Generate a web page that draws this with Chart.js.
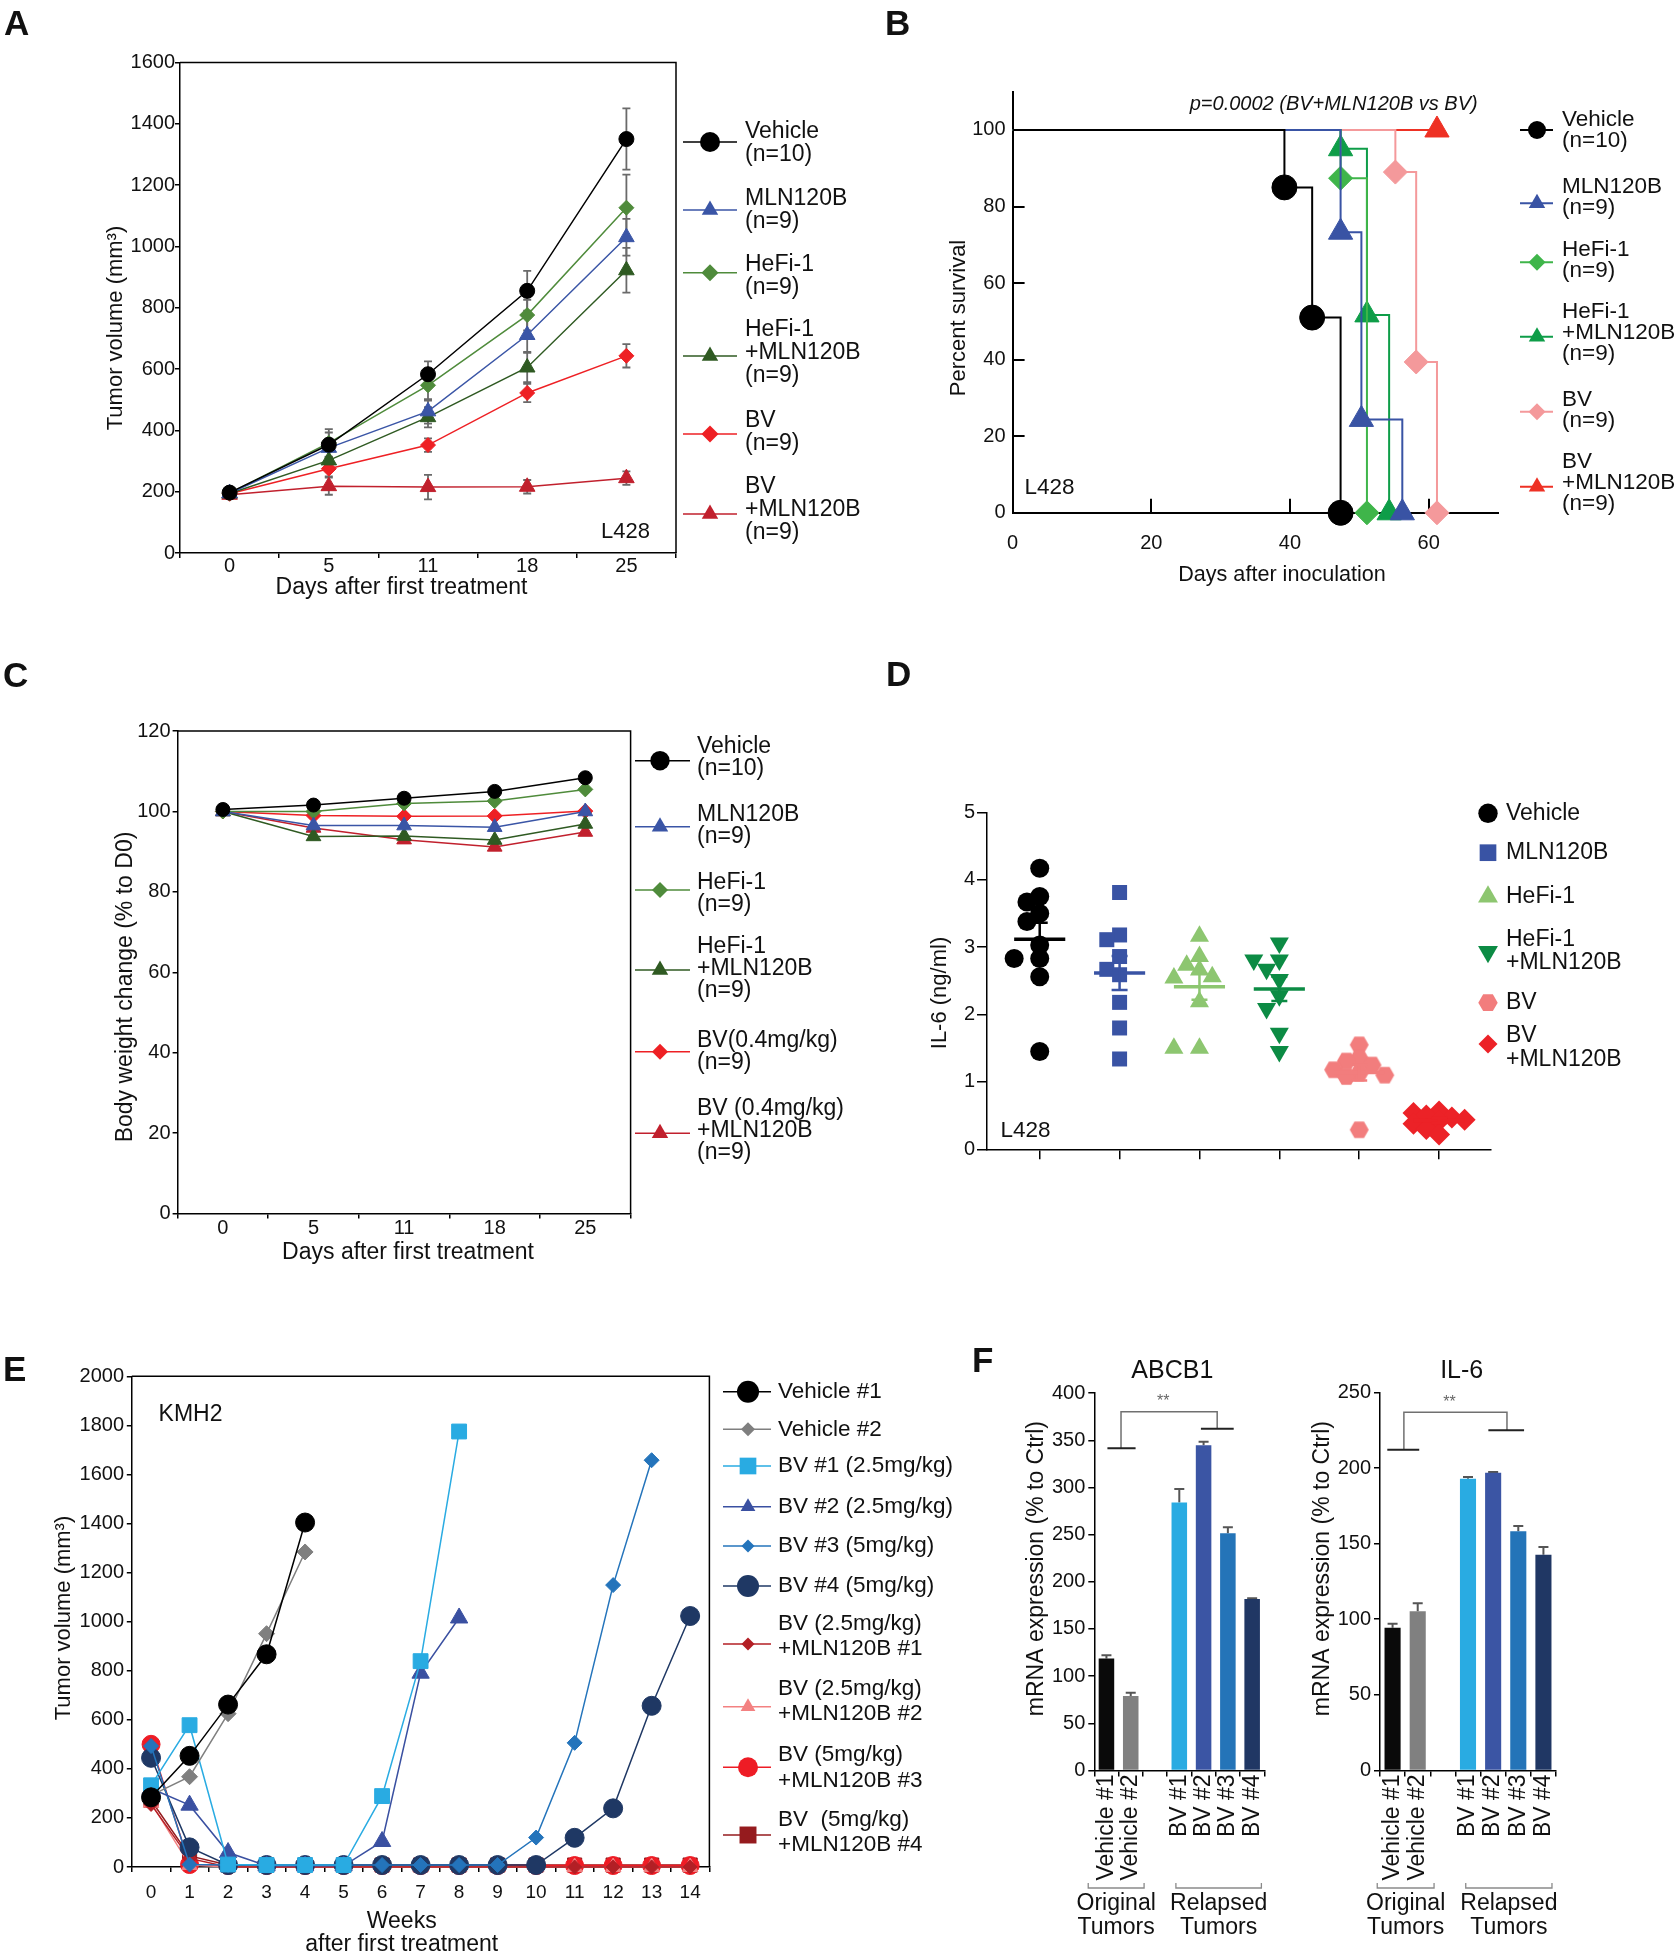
<!DOCTYPE html>
<html><head><meta charset="utf-8"><title>Figure</title>
<script src="https://cdn.jsdelivr.net/npm/chart.js@4.4.1/dist/chart.umd.min.js"></script>
<style>
html,body{margin:0;padding:0;background:#fff;}
#page{position:relative;width:1680px;height:1958px;overflow:hidden;background:#fff;}
#page canvas{position:absolute;left:0;top:0;width:1680px;height:1958px;}
.pl{position:absolute;font-family:"Liberation Sans",Arial,Helvetica,sans-serif;font-weight:bold;font-size:35px;line-height:35px;color:#111;}
</style></head><body>
<div id="page">
<canvas id="cA" width="1680" height="1958"></canvas>
<canvas id="cB" width="1680" height="1958"></canvas>
<canvas id="cC" width="1680" height="1958"></canvas>
<canvas id="cD" width="1680" height="1958"></canvas>
<canvas id="cE" width="1680" height="1958"></canvas>
<canvas id="cF1" width="1680" height="1958"></canvas>
<canvas id="cF2" width="1680" height="1958"></canvas>
<div class="pl" style="left:4px;top:5px">A</div>
<div class="pl" style="left:885px;top:5px">B</div>
<div class="pl" style="left:3px;top:657px">C</div>
<div class="pl" style="left:886px;top:656px">D</div>
<div class="pl" style="left:3px;top:1351px">E</div>
<div class="pl" style="left:972px;top:1342px">F</div>
</div>
<script>
// ===================== DATA =====================
// Panel A : tumour volume (mm3), L428
const daysA = ['0', '5', '11', '18', '25'];
const groupsA = [['Vehicle','(n=10)'], ['MLN120B','(n=9)'], ['HeFi-1','(n=9)'], ['HeFi-1','+MLN120B','(n=9)'], ['BV','(n=9)'], ['BV','+MLN120B','(n=9)']];
const tvVehicle = [197, 353, 583, 855, 1350];
const tvMLN     = [195, 343, 462, 711, 1030];
const tvHeFi    = [195, 359, 547, 776, 1126];
const tvHeFiMLN = [194, 302, 443, 605, 922];
const tvBV      = [193, 275, 352, 522, 643];
const tvBVMLN   = [190, 218, 215, 216, 244];
const tvErrVehicle = [10, 40, 42, 65, 100];
const tvErrMLN     = [10, 30, 40, 55, 60];
const tvErrHeFi    = [10, 45, 50, 50, 108];
const tvErrHeFiMLN = [10, 30, 33, 48, 73];
const tvErrBV      = [10, 25, 22, 30, 38];
const tvErrBVMLN   = [12, 28, 40, 22, 22];
const tvTicks = [0, 200, 400, 600, 800, 1000, 1200, 1400, 1600];

// Panel B : Kaplan-Meier survival
const groupsB = [['Vehicle','(n=10)'], ['MLN120B','(n=9)'], ['HeFi-1','(n=9)'], ['HeFi-1','+MLN120B','(n=9)'], ['BV','(n=9)'], ['BV','+MLN120B','(n=9)']];
const svDayVehicle = [0, 39.2, 43.2, 47.3];  const svVehicle = [100, 85, 51, 0];
const svDayMLN     = [0, 47.3, 50.3, 56.2];  const svMLN     = [100, 73.3, 24.4, 0];
const svDayHeFi    = [0, 47.3, 51.1];        const svHeFi    = [100, 87.4, 0];
const svDayHeFiMLN = [0, 47.3, 51.1, 54.3];  const svHeFiMLN = [100, 95.1, 51.7, 0];
const svDayBV      = [0, 55.2, 58.2, 61.2];  const svBV      = [100, 89, 39.4, 0];
const svDayBVMLN   = [0, 61.2];              const svBVMLN   = [100, 100];
const svDayTicks = [0, 20, 40, 60];
const svPctTicks = [0, 20, 40, 60, 80, 100];

// Panel C : body weight change (% to D0)
const groupsC = [['Vehicle','(n=10)'], ['MLN120B','(n=9)'], ['HeFi-1','(n=9)'], ['HeFi-1','+MLN120B','(n=9)'], ['BV(0.4mg/kg)','(n=9)'], ['BV (0.4mg/kg)','+MLN120B','(n=9)']];
const bwVehicle = [100.5, 101.6, 103.3, 105.0, 108.4];
const bwMLN     = [100.0, 96.5, 96.5, 96.1, 100.0];
const bwHeFi    = [100.0, 100.0, 102.0, 102.6, 105.5];
const bwHeFiMLN = [100.0, 93.8, 93.9, 92.9, 96.9];
const bwBV      = [100.0, 99.0, 98.8, 98.9, 100.1];
const bwBVMLN   = [100.0, 95.9, 93.0, 91.2, 94.9];
const bwTicks = [0, 20, 40, 60, 80, 100, 120];

// Panel D : serum IL-6 (ng/ml)
const groupsD = [['Vehicle'], ['MLN120B'], ['HeFi-1'], ['HeFi-1','+MLN120B'], ['BV'], ['BV','+MLN120B']];
const il6Vehicle = [4.17, 3.75, 3.67, 3.50, 3.38, 3.03, 2.83, 2.83, 2.56, 1.45];
const il6MLN     = [3.81, 3.18, 3.11, 2.86, 2.67, 2.59, 2.18, 1.80, 1.34];
const il6HeFi    = [3.16, 2.86, 2.73, 2.66, 2.56, 2.54, 2.19, 1.50, 1.50];
const il6HeFiMLN = [3.06, 2.81, 2.81, 2.67, 2.52, 2.28, 2.09, 1.72, 1.45];
const il6BV      = [1.55, 1.35, 1.31, 1.25, 1.18, 1.13, 1.10, 1.08, 0.29];
const il6BVMLN   = [0.56, 0.54, 0.50, 0.47, 0.44, 0.42, 0.38, 0.30, 0.22];
const il6GroupPos = [0, 1, 2, 3, 4, 5];
const il6Ticks = [0, 1, 2, 3, 4, 5];

// Panel E : KMH2 tumour volume (mm3) by week
const weeksE = ['0','1','2','3','4','5','6','7','8','9','10','11','12','13','14'];
const groupsE = [['Vehicle #1'], ['Vehicle #2'], ['BV #1 (2.5mg/kg)'], ['BV #2 (2.5mg/kg)'], ['BV #3 (5mg/kg)'], ['BV #4 (5mg/kg)'],
  ['BV (2.5mg/kg)','+MLN120B #1'], ['BV (2.5mg/kg)','+MLN120B #2'], ['BV (5mg/kg)','+MLN120B #3'], ['BV  (5mg/kg)','+MLN120B #4']];
const kmVehicle1 = [284, 453, 662, 867, 1404, null, null, null, null, null, null, null, null, null, null];
const kmVehicle2 = [292, 368, 625, 951, 1284, null, null, null, null, null, null, null, null, null, null];
const kmBV1 = [333, 578, 10, 8, 8, 8, 289, 839, 1775, null, null, null, null, null, null];
const kmBV2 = [320, 252, 59, 5, 5, 5, 104, 790, 1015, null, null, null, null, null, null];
const kmBV3 = [493, 10, 8, 8, 8, 8, 8, 8, 8, 8, 120, 506, 1149, 1658, null];
const kmBV4 = [445, 80, 8, 8, 8, 8, 8, 8, 8, 8, 8, 119, 239, 657, 1023];
const kmCombo1 = [255, 35, 0, 0, 0, 0, 0, 0, 0, 0, 0, 0, 0, 0, 0];
const kmCombo2 = [262, 8, 0, 0, 0, 0, 0, 0, 0, 0, 0, 0, 0, 0, 0];
const kmCombo3 = [500, 10, 6, 6, 6, 6, 6, 6, 6, 6, 6, 6, 6, 6, 6];
const kmCombo4 = [272, 45, 8, 8, 8, 8, 8, 8, 8, 8, 8, 8, 8, 8, 8];
const kmTicks = [0, 200, 400, 600, 800, 1000, 1200, 1400, 1600, 1800, 2000];

// Panel F : mRNA expression (% to Ctrl)
const fCats = ['Vehicle #1', 'Vehicle #2', '', 'BV #1', 'BV #2', 'BV #3', 'BV #4'];
const fGroups = [['Original', 'Tumors'], ['Relapsed', 'Tumors']];
const abcb1    = [118.7, 79.0, null, 284.2, 344.8, 251.6, 181.8];
const abcb1Err = [3.3, 3.3, null, 14.2, 3.8, 6.3, 0.8];
const il6mRNA    = [94.4, 105.3, null, 192.9, 196.8, 158.2, 142.6];
const il6mRNAErr = [2.6, 5.2, null, 1.1, 0.6, 3.4, 5.2];
const abcb1Ticks = [0, 50, 100, 150, 200, 250, 300, 350, 400];
const il6mTicks  = [0, 50, 100, 150, 200, 250];

// ===================== SETUP =====================
const FONT = '"Liberation Sans", Arial, Helvetica, sans-serif';
Chart.defaults.font.family = FONT;
Chart.defaults.color = '#111';
Chart.defaults.animation = false;
Chart.defaults.responsive = false;
Chart.defaults.maintainAspectRatio = false;
Chart.defaults.devicePixelRatio = 1;
Chart.defaults.events = [];
Chart.defaults.plugins.legend.display = false;
Chart.defaults.plugins.tooltip.enabled = false;

const PW = 1680, PH = 1958;
const setTicks = list => s => { s.ticks = list.map(v => ({ value: v })); };
const plainNum = v => String(v);

function drawMarker(ctx, style, x, y, r, color, rot) {
  ctx.save();
  ctx.fillStyle = color;
  ctx.translate(x, y);
  if (rot) ctx.rotate(rot * Math.PI / 180);
  ctx.beginPath();
  if (style === 'circle') ctx.arc(0, 0, r, 0, 2 * Math.PI);
  else if (style === 'triangle') { ctx.moveTo(0, -r); ctx.lineTo(r * 0.866, r * 0.5); ctx.lineTo(-r * 0.866, r * 0.5); ctx.closePath(); }
  else if (style === 'rect') { const s = r * Math.SQRT1_2; ctx.rect(-s, -s, 2 * s, 2 * s); }
  else if (style === 'rectRot') { ctx.moveTo(-r, 0); ctx.lineTo(0, -r); ctx.lineTo(r, 0); ctx.lineTo(0, r); ctx.closePath(); }
  else if (style === 'hex') { for (let k = 0; k < 6; k++) { const a = k * Math.PI / 3; ctx.lineTo(r * Math.cos(a), r * Math.sin(a)); } ctx.closePath(); }
  ctx.fill();
  ctx.restore();
}

function hexImg(color, r) {
  const c = document.createElement('canvas');
  const s = Math.ceil(2 * r + 2);
  c.width = s; c.height = s;
  drawMarker(c.getContext('2d'), 'hex', s / 2, s / 2, r, color, 0);
  return c;
}

function drawErrors(chart, o) {
  const ctx = chart.ctx, ys = chart.scales.y;
  chart.data.datasets.forEach((ds, i) => {
    if (!ds.errs) return;
    const meta = chart.getDatasetMeta(i);
    ds.data.forEach((v, j) => {
      const e = ds.errs[j];
      if (v == null || e == null) return;
      const el = meta.data[j];
      if (!el) return;
      const x = el.x, yT = ys.getPixelForValue(v + e), yB = ys.getPixelForValue(o.up ? v : v - e);
      ctx.save();
      ctx.strokeStyle = o.color; ctx.lineWidth = o.w;
      ctx.beginPath();
      ctx.moveTo(x, yB); ctx.lineTo(x, yT);
      ctx.moveTo(x - o.cap, yT); ctx.lineTo(x + o.cap, yT);
      if (!o.up) { ctx.moveTo(x - o.cap, yB); ctx.lineTo(x + o.cap, yB); }
      ctx.stroke();
      ctx.restore();
    });
  });
}

function drawLegend(chart, L) {
  const ctx = chart.ctx;
  chart.data.datasets.forEach((ds, i) => {
    const y = L.pos[i][0], ty = L.pos[i][1];
    const col = ds.borderColor;
    if (L.x1 != null) {
      ctx.strokeStyle = col; ctx.lineWidth = L.lw;
      ctx.beginPath(); ctx.moveTo(L.x1, y); ctx.lineTo(L.x2, y); ctx.stroke();
    }
    drawMarker(ctx, ds.legendStyle || ds.pointStyle, L.mx, y, ds.legendR, col, ds.pointRotation || 0);
    ctx.fillStyle = '#111';
    ctx.font = L.size + 'px ' + FONT;
    ctx.textAlign = 'left'; ctx.textBaseline = 'middle';
    ds.lines.forEach((ln, k) => ctx.fillText(ln, L.tx, ty + k * L.lh));
  });
}

function deco(spec) {
  return {
    id: 'deco',
    beforeDatasetsDraw(chart) { if (spec.err) drawErrors(chart, spec.err); },
    afterDatasetsDraw(chart) { if (spec.after) spec.after(chart); },
    afterDraw(chart) {
      const ctx = chart.ctx, ca = chart.chartArea;
      ctx.save();
      if (spec.box) {
        ctx.strokeStyle = '#000'; ctx.lineWidth = spec.box;
        ctx.beginPath(); ctx.moveTo(ca.left, ca.top); ctx.lineTo(ca.right, ca.top); ctx.lineTo(ca.right, ca.bottom); ctx.stroke();
      }
      (spec.texts || []).forEach(t => {
        ctx.save();
        ctx.font = (t.style || 'normal') + ' normal ' + t.size + 'px ' + FONT;
        ctx.fillStyle = t.color || '#111';
        ctx.textAlign = 'center'; ctx.textBaseline = 'middle';
        ctx.translate(t.x, t.y);
        if (t.rot) ctx.rotate(t.rot * Math.PI / 180);
        ctx.fillText(t.t, 0, 0);
        ctx.restore();
      });
      if (spec.legend) drawLegend(chart, spec.legend);
      ctx.restore();
    }
  };
}

function build(id, area, yW, xH, cfg, spec) {
  cfg.options.layout = { autoPadding: false, padding: { left: area.l - yW, top: area.t, right: PW - area.r, bottom: PH - area.b - xH } };
  cfg.options.scales.x.afterFit = s => { s.height = xH; };
  cfg.options.scales.y.afterFit = s => { s.width = yW; };
  cfg.plugins = [deco(spec)];
  return new Chart(document.getElementById(id), cfg);
}

const blackGrid = (tl, lw) => ({ display: true, drawOnChartArea: false, drawTicks: true, tickLength: tl, color: '#000', lineWidth: lw });
const blackBorder = w => ({ display: true, color: '#000', width: w });

// ===================== PANEL A =====================
(function () {
  const col = ['#000000', '#3a55a6', '#4f8b3b', '#2f5a22', '#ee2024', '#c1202d'];
  const shp = ['circle', 'triangle', 'rectRot', 'triangle', 'rectRot', 'triangle'];
  const series = [tvVehicle, tvMLN, tvHeFi, tvHeFiMLN, tvBV, tvBVMLN];
  const errs = [tvErrVehicle, tvErrMLN, tvErrHeFi, tvErrHeFiMLN, tvErrBV, tvErrBVMLN];
  const datasets = series.map((d, i) => ({
    label: groupsA[i].join(' '), lines: groupsA[i], data: d, errs: errs[i],
    borderColor: col[i], backgroundColor: col[i], pointBackgroundColor: col[i], pointBorderColor: col[i],
    pointStyle: shp[i], pointRadius: shp[i] === 'circle' ? 7.5 : (shp[i] === 'triangle' ? 9 : 7.5),
    pointBorderWidth: 1, borderWidth: 1.5, clip: false,
    legendR: shp[i] === 'circle' ? 10 : (shp[i] === 'triangle' ? 9.5 : 8.5)
  }));
  build('cA', { l: 180, t: 62.4, r: 676, b: 553 }, 70, 40, {
    type: 'line',
    data: { labels: daysA, datasets },
    options: { scales: {
      x: { type: 'category', offset: true, grid: Object.assign(blackGrid(5, 1.5), { offset: true }), border: blackBorder(1.5),
           ticks: { font: { size: 20 }, color: '#111', padding: -4, maxRotation: 0, autoSkip: false } },
      y: { type: 'linear', min: 0, max: 1600, afterBuildTicks: setTicks(tvTicks), grid: blackGrid(5, 1.5), border: blackBorder(1.5),
           ticks: { font: { size: 20 }, color: '#111', padding: 0, callback: plainNum } }
    } }
  }, {
    box: 1.5,
    err: { color: '#6a6a6a', w: 1.8, cap: 4 },
    texts: [
      { t: 'Tumor volume (mm³)', x: 116, y: 328, size: 22, rot: -90 },
      { t: 'Days after first treatment', x: 401.5, y: 587.5, size: 23 },
      { t: 'L428', x: 625.5, y: 531.6, size: 22 }
    ],
    legend: { x1: 683, x2: 737, mx: 710, tx: 745, size: 23, lh: 23, lw: 1.5,
      pos: [[142, 131.5], [210, 199], [272.7, 265], [356, 330], [434, 420.7], [514, 486.7]] }
  });
})();

// ===================== PANEL B =====================
(function () {
  const col = ['#000000', '#3953a4', '#3fb54a', '#0e9d48', '#f4999b', '#ee3124'];
  const shp = ['circle', 'triangle', 'rectRot', 'triangle', 'rectRot', 'triangle'];
  const rad = [12.5, 14, 12, 14, 12, 14];
  const days = [svDayVehicle, svDayMLN, svDayHeFi, svDayHeFiMLN, svDayBV, svDayBVMLN];
  const pcts = [svVehicle, svMLN, svHeFi, svHeFiMLN, svBV, svBVMLN];
  const datasets = pcts.map((p, i) => ({
    label: groupsB[i].join(' '), lines: groupsB[i],
    data: p.map((v, k) => ({ x: days[i][k], y: v })),
    showLine: true, stepped: 'before',
    borderColor: col[i], backgroundColor: col[i], pointBackgroundColor: col[i], pointBorderColor: col[i],
    pointStyle: shp[i], pointRadius: p.map((v, k) => k === 0 ? 0 : rad[i]), pointBorderWidth: 1,
    borderWidth: 2, clip: false, legendR: shp[i] === 'circle' ? 9 : (shp[i] === 'triangle' ? 9.5 : 8.5)
  }));
  build('cB', { l: 1012.6, t: 91.7, r: 1498, b: 512.8 }, 70, 40, {
    type: 'scatter',
    data: { datasets },
    options: { scales: {
      x: { type: 'linear', min: 0, max: 70, afterBuildTicks: setTicks(svDayTicks), grid: blackGrid(-14, 2), border: blackBorder(2),
           ticks: { font: { size: 20 }, color: '#111', padding: 33, callback: plainNum } },
      y: { type: 'linear', min: 0, max: 110, afterBuildTicks: setTicks(svPctTicks), grid: blackGrid(-12, 2), border: blackBorder(2),
           ticks: { font: { size: 20 }, color: '#111', padding: 19, callback: plainNum } }
    } }
  }, {
    texts: [
      { t: 'Percent survival', x: 959, y: 318, size: 22, rot: -90 },
      { t: 'Days after inoculation', x: 1282, y: 574.8, size: 21.6 },
      { t: 'p=0.0002 (BV+MLN120B vs BV)', x: 1333.7, y: 104.8, size: 20, style: 'italic' },
      { t: 'L428', x: 1049.6, y: 488, size: 22.5 }
    ],
    legend: { x1: 1520, x2: 1553, mx: 1537, tx: 1562, size: 22.5, lh: 21, lw: 2,
      pos: [[130, 120], [203.3, 186.7], [262.3, 250], [336.7, 311.7], [411.7, 400], [486.7, 461.7]] }
  });
})();

// ===================== PANEL C =====================
(function () {
  const col = ['#000000', '#3a55a6', '#4f8b3b', '#2f5a22', '#ee2024', '#c1202d'];
  const shp = ['circle', 'triangle', 'rectRot', 'triangle', 'rectRot', 'triangle'];
  const series = [bwVehicle, bwMLN, bwHeFi, bwHeFiMLN, bwBV, bwBVMLN];
  const datasets = series.map((d, i) => ({
    label: groupsC[i].join(' '), lines: groupsC[i], data: d,
    borderColor: col[i], backgroundColor: col[i], pointBackgroundColor: col[i], pointBorderColor: col[i],
    pointStyle: shp[i], pointRadius: shp[i] === 'circle' ? 7 : (shp[i] === 'triangle' ? 8.5 : 7.5),
    pointBorderWidth: 1, borderWidth: 1.5, clip: false,
    legendR: shp[i] === 'circle' ? 9.7 : (shp[i] === 'triangle' ? 9.5 : 8)
  }));
  build('cC', { l: 177.6, t: 731.1, r: 630.6, b: 1213.5 }, 70, 40, {
    type: 'line',
    data: { labels: daysA, datasets },
    options: { scales: {
      x: { type: 'category', offset: true, grid: Object.assign(blackGrid(5, 1.5), { offset: true }), border: blackBorder(1.5),
           ticks: { font: { size: 20 }, color: '#111', padding: -2.5, maxRotation: 0, autoSkip: false } },
      y: { type: 'linear', min: 0, max: 120, afterBuildTicks: setTicks(bwTicks), grid: blackGrid(5, 1.5), border: blackBorder(1.5),
           ticks: { font: { size: 20 }, color: '#111', padding: 2, callback: plainNum } }
    } }
  }, {
    box: 1.5,
    texts: [
      { t: 'Body weight change (% to D0)', x: 126, y: 987, size: 23, rot: -90 },
      { t: 'Days after first treatment', x: 408, y: 1253, size: 23 }
    ],
    legend: { x1: 635, x2: 690, mx: 660, tx: 697, size: 23, lh: 22, lw: 1.5,
      pos: [[760.7, 746.7], [826.7, 815], [890, 882.8], [970, 946.7], [1051.7, 1040.7], [1133.3, 1108.3]] }
  });
})();

// ===================== PANEL D =====================
function swarm(vals, idx) {
  const step = 0.16, ppx = 79.9, ppy = 67.4, d = 13;
  const order = vals.map((v, k) => k).sort((a, b) => vals[b] - vals[a]);
  const placed = [], out = [];
  order.forEach(k => {
    const v = vals[k];
    let best = 0, bestD = -1;
    for (const c of [0, -1, 1, -2, 2]) {
      const md = placed.reduce((m, p) => Math.min(m, Math.hypot((c - p.c) * step * ppx, (v - p.v) * ppy)), Infinity);
      if (md >= d) { best = c; break; }
      if (md > bestD) { bestD = md; best = c; }
    }
    placed.push({ c: best, v });
    out[k] = { x: idx + best * step, y: v };
  });
  return out;
}
(function () {
  const col = ['#000000', '#3953a4', '#8dc670', '#0c8b44', '#f27d7d', '#ec2227'];
  const vals = [il6Vehicle, il6MLN, il6HeFi, il6HeFiMLN, il6BV, il6BVMLN];
  const shp = ['circle', 'rect', 'triangle', 'triangle', hexImg('#f27d7d', 9.5), 'rectRot'];
  const lshp = ['circle', 'rect', 'triangle', 'triangle', 'hex', 'rectRot'];
  const rot = [0, 0, 0, 180, 0, 0];
  const rad = [9.5, 10.6, 11, 11, 9.5, 11];
  const lrad = [9.7, 11.8, 11.5, 11.5, 9.7, 9.5];
  const datasets = vals.map((v, i) => ({
    label: groupsD[i].join(' '), lines: groupsD[i], vals: v, data: swarm(v, il6GroupPos[i]),
    pointStyle: shp[i], legendStyle: lshp[i], pointRotation: rot[i], pointRadius: rad[i],
    backgroundColor: col[i], borderColor: col[i], pointBorderWidth: 0, clip: false, legendR: lrad[i]
  }));
  build('cD', { l: 987, t: 812.3, r: 1491, b: 1149.3 }, 70, 40, {
    type: 'scatter',
    data: { datasets },
    options: { scales: {
      x: { type: 'linear', min: -0.66, max: 5.65, afterBuildTicks: setTicks(il6GroupPos), grid: blackGrid(10, 1.5), border: blackBorder(1.5),
           ticks: { display: false } },
      y: { type: 'linear', min: 0, max: 5, afterBuildTicks: setTicks(il6Ticks), grid: blackGrid(10, 1.5), border: blackBorder(1.5),
           ticks: { font: { size: 20 }, color: '#111', padding: 2, callback: plainNum } }
    } }
  }, {
    after(chart) {
      const ctx = chart.ctx, xs = chart.scales.x, ys = chart.scales.y;
      chart.data.datasets.forEach((ds, i) => {
        const v = ds.vals, n = v.length;
        const m = v.reduce((a, b) => a + b, 0) / n;
        const se = Math.sqrt(v.reduce((a, b) => a + (b - m) * (b - m), 0) / (n - 1)) / Math.sqrt(n);
        const c = il6GroupPos[i];
        ctx.save();
        ctx.strokeStyle = ds.borderColor;
        ctx.lineWidth = 3.5;
        ctx.beginPath();
        ctx.moveTo(xs.getPixelForValue(c - 0.32), ys.getPixelForValue(m));
        ctx.lineTo(xs.getPixelForValue(c + 0.32), ys.getPixelForValue(m));
        ctx.stroke();
        ctx.lineWidth = 2.5;
        ctx.beginPath();
        ctx.moveTo(xs.getPixelForValue(c), ys.getPixelForValue(m - se));
        ctx.lineTo(xs.getPixelForValue(c), ys.getPixelForValue(m + se));
        [m - se, m + se].forEach(yv => {
          ctx.moveTo(xs.getPixelForValue(c - 0.1), ys.getPixelForValue(yv));
          ctx.lineTo(xs.getPixelForValue(c + 0.1), ys.getPixelForValue(yv));
        });
        ctx.stroke();
        ctx.restore();
      });
    },
    texts: [
      { t: 'IL-6 (ng/ml)', x: 940, y: 993, size: 22, rot: -90 },
      { t: 'L428', x: 1025.5, y: 1130.7, size: 22.5 }
    ],
    legend: { mx: 1488, tx: 1506, size: 23, lh: 23.4,
      pos: [[813.3, 813.3], [852.7, 852.7], [896.7, 896.7], [951.7, 939.3], [1002.7, 1002.7], [1044, 1036]] }
  });
})();

// ===================== PANEL E =====================
(function () {
  const col = ['#000000', '#7f7f7f', '#29abe2', '#3a50a1', '#2474bb', '#1f3864', '#b31f25', '#f38181', '#ee1c25', '#951b1e'];
  const shp = ['circle', 'rectRot', 'rect', 'triangle', 'rectRot', 'circle', 'rectRot', 'triangle', 'circle', 'rect'];
  const rad = [9.5, 8, 10.5, 10, 7.5, 9.5, 7, 9, 9, 10];
  const lrad = [11, 7, 11.8, 8.5, 6.5, 11, 6.5, 8.5, 10, 12];
  const series = [kmVehicle1, kmVehicle2, kmBV1, kmBV2, kmBV3, kmBV4, kmCombo1, kmCombo2, kmCombo3, kmCombo4];
  const datasets = series.map((d, i) => ({
    label: groupsE[i].join(' '), lines: groupsE[i], data: d,
    borderColor: col[i], backgroundColor: col[i], pointBackgroundColor: col[i], pointBorderColor: col[i],
    pointStyle: shp[i], pointRadius: rad[i], pointBorderWidth: 1, borderWidth: 1.5, clip: false, legendR: lrad[i]
  }));
  build('cE', { l: 131.8, t: 1376.3, r: 709.4, b: 1867 }, 70, 40, {
    type: 'line',
    data: { labels: weeksE, datasets },
    options: { scales: {
      x: { type: 'category', offset: true, grid: Object.assign(blackGrid(5, 1.5), { offset: true }), border: blackBorder(1.5),
           ticks: { font: { size: 19 }, color: '#111', padding: 9.4, maxRotation: 0, autoSkip: false } },
      y: { type: 'linear', min: 0, max: 2000, afterBuildTicks: setTicks(kmTicks), grid: blackGrid(5, 1.5), border: blackBorder(1.5),
           ticks: { font: { size: 20 }, color: '#111', padding: 2.8, callback: plainNum } }
    } }
  }, {
    box: 1.5,
    texts: [
      { t: 'Tumor volume (mm³)', x: 64, y: 1618, size: 22, rot: -90 },
      { t: 'Weeks', x: 401.7, y: 1921.4, size: 23 },
      { t: 'after first treatment', x: 401.7, y: 1945, size: 23 },
      { t: 'KMH2', x: 190.5, y: 1415, size: 23 }
    ],
    legend: { x1: 723, x2: 771, mx: 748, tx: 778, size: 22.5, lh: 25.5, lw: 1.5,
      pos: [[1391.7, 1391.7], [1429.3, 1429.3], [1466, 1466], [1506.7, 1506.7], [1546, 1546], [1586, 1586],
            [1644, 1623.3], [1706.7, 1688.3], [1767.3, 1755], [1835, 1819.3]] }
  });
})();

// ===================== PANEL F =====================
function fPanel(id, area, values, errs, ticks, title, titleX, sig, groups) {
  const col = ['#0a0a0a', '#808080', '#ffffff', '#29abe2', '#3b55a4', '#2474b8', '#203764'];
  build(id, area, 60, 120, {
    type: 'bar',
    data: { labels: fCats, datasets: [{ label: title, data: values, errs, backgroundColor: col, borderWidth: 0, barPercentage: 0.64, categoryPercentage: 1 }] },
    options: { scales: {
      x: { type: 'category', offset: true, grid: Object.assign(blackGrid(6, 1.5), { offset: true }), border: blackBorder(1.5),
           ticks: { font: { size: 23 }, color: '#111', padding: -2, minRotation: 90, maxRotation: 90, autoSkip: false } },
      y: { type: 'linear', min: 0, max: ticks[ticks.length - 1], afterBuildTicks: setTicks(ticks), grid: blackGrid(6, 1.5), border: blackBorder(1.5),
           ticks: { font: { size: 20 }, color: '#111', padding: 3, callback: plainNum } }
    } }
  }, {
    err: { color: '#555', w: 2, cap: 5, up: true },
    after(chart) {
      const ctx = chart.ctx, xs = chart.scales.x, ys = chart.scales.y;
      const X = v => xs.getPixelForValue(v), Y = v => ys.getPixelForValue(v);
      ctx.save();
      ctx.strokeStyle = '#707070'; ctx.lineWidth = 1.5;
      ctx.beginPath();
      ctx.moveTo(X(sig.lv), Y(sig.ly)); ctx.lineTo(X(sig.lv), Y(sig.top));
      ctx.lineTo(X(sig.rv), Y(sig.top)); ctx.lineTo(X(sig.rv), Y(sig.ry));
      ctx.stroke();
      ctx.strokeStyle = '#222'; ctx.lineWidth = 2;
      ctx.beginPath();
      ctx.moveTo(X(sig.l1), Y(sig.ly)); ctx.lineTo(X(sig.l2), Y(sig.ly));
      ctx.moveTo(X(sig.r1), Y(sig.ry)); ctx.lineTo(X(sig.r2), Y(sig.ry));
      ctx.stroke();
      ctx.fillStyle = '#666'; ctx.font = '16px ' + FONT; ctx.textAlign = 'center'; ctx.textBaseline = 'middle';
      ctx.fillText('**', X(sig.sx), Y(sig.sy));
      groups.forEach((g, gi) => {
        ctx.strokeStyle = '#8a8a8a'; ctx.lineWidth = 1.3;
        ctx.beginPath();
        ctx.moveTo(X(g.a), g.y - 5); ctx.lineTo(X(g.a), g.y); ctx.lineTo(X(g.b), g.y); ctx.lineTo(X(g.b), g.y - 5);
        ctx.stroke();
        ctx.fillStyle = '#111'; ctx.font = '23px ' + FONT;
        fGroups[gi].forEach((ln, k) => ctx.fillText(ln, X((g.a + g.b) / 2), g.ty + k * 23.6));
      });
      ctx.restore();
    },
    texts: [
      { t: title, x: titleX, y: 1371.5, size: 25 },
      { t: 'mRNA expression (% to Ctrl)', x: area.l - 57.6, y: 1568.6, size: 23, rot: -90 }
    ]
  });
}
fPanel('cF1', { l: 1094.3, t: 1393.2, r: 1264.3, b: 1770.4 }, abcb1, abcb1Err, abcb1Ticks, 'ABCB1', 1172.3,
  { top: 380.4, ly: 341.5, ry: 362.4, lv: 0.6, rv: 4.56, l1: 0.04, l2: 1.2, r1: 3.89, r2: 5.24, sx: 2.34, sy: 391 },
  [{ a: -0.75, b: 1.55, y: 1888, ty: 1903.7 }, { a: 2.86, b: 6.38, y: 1888, ty: 1903.7 }]);
fPanel('cF2', { l: 1380, t: 1392.4, r: 1556, b: 1770.4 }, il6mRNA, il6mRNAErr, il6mTicks, 'IL-6', 1461.7,
  { top: 236.9, ly: 212, ry: 225, lv: 0.45, rv: 4.55, l1: -0.21, l2: 1.06, r1: 3.81, r2: 5.23, sx: 2.26, sy: 243 },
  [{ a: -0.61, b: 1.65, y: 1888, ty: 1903.7 }, { a: 2.91, b: 6.34, y: 1888, ty: 1903.7 }]);
</script>
</body></html>
